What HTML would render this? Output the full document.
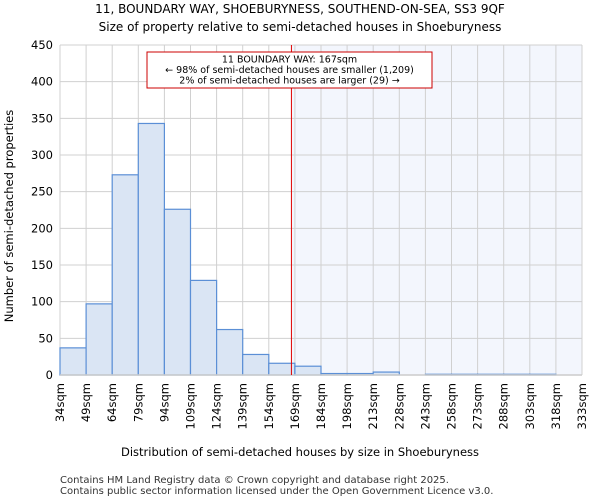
<!DOCTYPE html>
<html><head><meta charset="utf-8"><style>
body{margin:0;background:#fff;font-family:"DejaVu Sans","Liberation Sans",sans-serif}
</style></head><body>
<svg id="c" width="600" height="500" xmlns="http://www.w3.org/2000/svg" font-family="DejaVu Sans, Liberation Sans, sans-serif">
<text x="300" y="13" text-anchor="middle" font-size="12">11, BOUNDARY WAY, SHOEBURYNESS, SOUTHEND-ON-SEA, SS3 9QF</text>
<text x="300" y="31" text-anchor="middle" font-size="12">Size of property relative to semi-detached houses in Shoeburyness</text>
<g id="plot"></g>
<text x="300" y="456" text-anchor="middle" font-size="11.5">Distribution of semi-detached houses by size in Shoeburyness</text>
<text transform="translate(13,216) rotate(-90)" text-anchor="middle" font-size="11.5">Number of semi-detached properties</text>
<text x="60" y="483" font-size="10" fill="#333">Contains HM Land Registry data © Crown copyright and database right 2025.</text>
<text x="60" y="494" font-size="10" fill="#333">Contains public sector information licensed under the Open Government Licence v3.0.</text>
</svg>
<script>
const binLabels=["34sqm","49sqm","64sqm","79sqm","94sqm","109sqm","124sqm","139sqm","154sqm","169sqm","184sqm","198sqm","213sqm","228sqm","243sqm","258sqm","273sqm","288sqm","303sqm","318sqm","333sqm"];
const counts=[37,97,273,343,226,129,62,28,16,12,2,2,4,0,1,1,1,1,1,0];
const yTicks=[0,50,100,150,200,250,300,350,400,450];
const propertySize=167;
const binStart=34,binWidth=15;
const X0=60,X1=582,Y0=375,Y1=45,YMAX=450;
const ns="http://www.w3.org/2000/svg";
const g=document.getElementById('plot');
const bw=(X1-X0)/counts.length;
const x=v=>X0+(v-binStart)/binWidth*bw;
const xi=i=>X0+i*bw;
const y=v=>Y0-(v/YMAX)*(Y0-Y1);
function el(t,a){const e=document.createElementNS(ns,t);for(const k in a)e.setAttribute(k,a[k]);g.appendChild(e);return e;}
const px=x(propertySize);
const sh=el('rect',{x:px,y:Y1,width:X1-px,height:Y0-Y1,fill:'#f3f6fd'});


yTicks.forEach(t=>{
 const l=el('line',{x1:X0,x2:X1,y1:y(t),y2:y(t),stroke:'#d0d0d0','stroke-width':1});
 
 
 const tx=el('text',{x:X0-7,y:y(t)+4,'text-anchor':'end','font-size':'11.5'});
 tx.textContent=t;
 
 
});
binLabels.forEach((lb,i)=>{
 const l=el('line',{x1:xi(i),x2:xi(i),y1:Y1,y2:Y0,stroke:'#d0d0d0','stroke-width':1});
 
 
 const tx=el('text',{transform:`translate(${xi(i)+4},${Y0+8}) rotate(-90)`,'text-anchor':'end','font-size':'11.5'});
 tx.textContent=lb;
 
 
});
counts.forEach((c,i)=>{
 if(c<=0)return;
 const r=el('rect',{x:xi(i),y:y(c),width:bw,height:Y0-y(c),fill:'#dae5f4',stroke:'#5b8fd6','stroke-width':1.2});
 
 
});
const ax=el('line',{x1:X0,x2:X1,y1:Y0,y2:Y0,stroke:'#ccc','stroke-width':1.5});


const ml=el('line',{x1:px,x2:px,y1:Y1,y2:Y0,stroke:'#e00000','stroke-width':1});


const box=el('rect',{x:147,y:52,width:285,height:36,fill:'#fff',stroke:'#c00','stroke-width':1});


["11 BOUNDARY WAY: 167sqm","← 98% of semi-detached houses are smaller (1,209)","2% of semi-detached houses are larger (29) →"].forEach((s,i)=>{
 const t=el('text',{x:289.5,y:62.5+i*10.5,'text-anchor':'middle','font-size':'9.5'});
 t.textContent=s;
 
 
});
</script>
</body></html>
